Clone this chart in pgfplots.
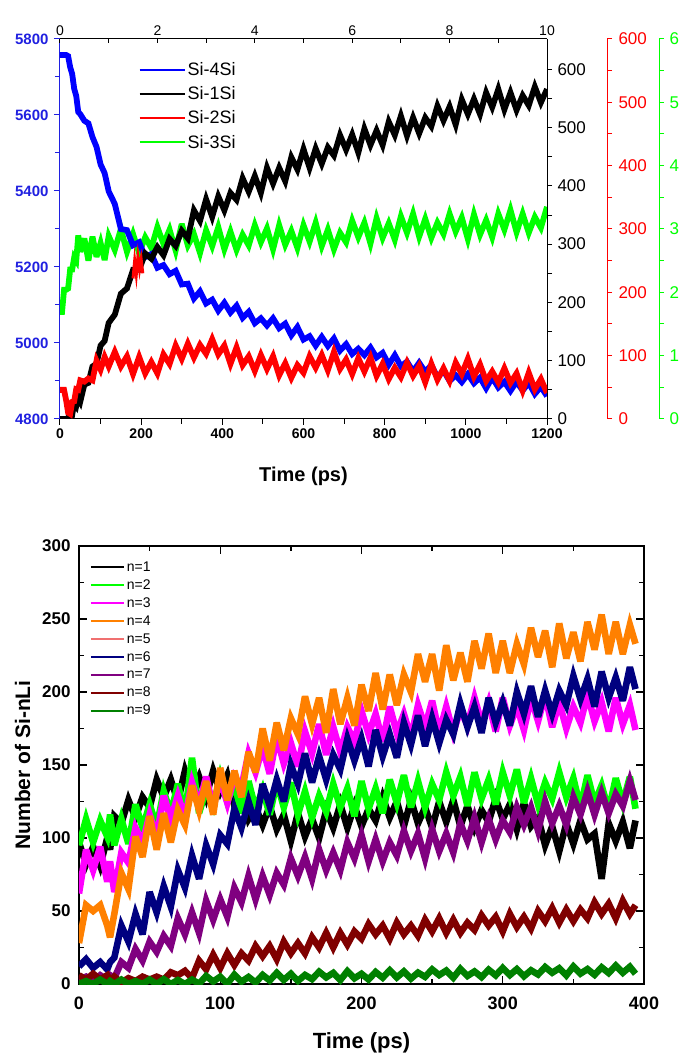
\documentclass[border=0pt]{standalone}
\usepackage{pgfplots}
\pgfplotsset{compat=1.18}
\usepackage{pgfplotstable}
\usepackage{fontspec}
\setmainfont{Liberation Sans}
\definecolor{cblue}{HTML}{0000FF}
\definecolor{axblue}{HTML}{2020E0}
\definecolor{cgreen}{HTML}{00FF00}
\definecolor{cred}{HTML}{FF0000}
\definecolor{cmag}{HTML}{FF00FF}
\definecolor{corange}{HTML}{FF8000}
\definecolor{cnavy}{HTML}{000080}
\definecolor{cpurple}{HTML}{800080}
\definecolor{cdred}{HTML}{800000}
\definecolor{cdgreen}{HTML}{008000}
\definecolor{cn5}{HTML}{F07070}

\pgfplotstableread{
t b k r g
0 5758 0 46 1.69
5 5758 0 46 1.69
10 5758 0 46 2.04
15 5758 0 30 2.04
20 5755 2 10 2.06
25 5726 8 8 2.36
30 5708 7 27 2.36
35 5669 27 28 2.55
40 5650 22 47 2.50
45 5608 37 46 2.90
50 5602 30 61 2.64
60 5585 59 59 2.85
70 5578 62 64 2.50
80 5542 90 61 2.88
90 5516 95 92 2.56
100 5470 126 78 2.78
110 5447 134 98 2.51
120 5399 165 83 2.89
135 5366 179 106 2.67
150 5300 215 83 3.00
165 5297 224 99 2.64
180 5257 256 71 2.92
195 5265 256 98 2.62
210 5226 284 72 2.87
225 5234 275 90 2.70
240 5198 295 72 3.03
255 5205 281 102 2.76
270 5181 309 87 2.99
285 5190 297 116 2.66
300 5154 323 95 3.08
315 5156 310 119 2.74
330 5117 358 97 2.92
345 5136 340 117 2.62
360 5104 377 103 2.98
375 5114 347 126 2.73
390 5085 382 102 3.03
405 5106 358 116 2.68
420 5080 388 87 2.96
435 5098 376 113 2.67
450 5066 413 85 2.91
465 5082 390 99 2.74
480 5052 417 76 3.06
495 5065 388 101 2.79
510 5046 431 79 3.01
525 5065 404 99 2.68
540 5039 431 69 3.06
555 5051 408 88 2.75
570 5020 449 65 2.97
585 5042 428 85 2.70
600 5009 463 73 3.06
615 5018 431 99 2.80
630 4993 464 81 3.10
645 5016 438 101 2.73
660 4992 466 77 2.99
675 5012 452 106 2.68
690 4980 487 79 2.94
705 4997 462 94 2.79
720 4971 488 71 3.13
735 4985 457 96 2.87
750 4968 498 75 3.10
765 4988 470 97 2.77
780 4962 495 68 3.17
795 4974 470 87 2.86
810 4943 510 63 3.09
825 4968 487 81 2.83
840 4939 520 66 3.20
855 4951 486 89 2.94
870 4925 517 68 3.24
885 4948 490 84 2.88
900 4924 517 58 3.16
915 4942 502 87 2.86
930 4910 537 62 3.10
945 4927 512 80 2.92
960 4900 536 60 3.24
975 4915 505 89 2.96
990 4897 548 71 3.18
1005 4918 523 95 2.84
1020 4894 549 67 3.23
1035 4909 523 86 2.91
1050 4881 560 60 3.14
1065 4909 535 75 2.87
1080 4883 566 58 3.24
1095 4898 531 80 2.99
1110 4874 560 57 3.30
1125 4898 530 72 2.95
1140 4875 555 45 3.24
1155 4895 538 73 2.94
1170 4866 570 47 3.19
1185 4885 543 63 3.02
1200 4860 566 41 3.35
}\toptable

\pgfplotstableread{
t n1 n2 n3 n4 n6 n7 n8 n9
0 97 95 62 28 12 3 6 0
5 82 113 92 54 17 5 3 2
10 94 97 78 50 11 2 7 0
15 81 112 94 54 15 6 3 3
20 100 101 70 40 10 3 6 0
22 92 116 84 32 15 6 2 2
25 115 95 63 48 18 4 5 0
30 110 113 90 76 40 15 1 3
35 126 96 83 65 29 11 4 0
40 114 123 107 101 48 24 2 2
45 128 107 97 87 34 16 5 0
50 121 123 116 115 63 29 3 3
55 140 108 101 92 49 22 5 0
60 128 132 129 117 67 33 3 3.3
65 140 117 113 97 53 26 8 0
70 125 137 129 119 78 45 6 2.7
75 146 116 114 109 66 34 9 0
80 131 155 138 136 88 49 4 3
85 142 117 123 119 72 35 16 0.2
90 128 133 142 139 95 57 10 5.5
95 146 122 121 116 82 44 20 1.7
100 132 142 140 148 102 58 11 5
105 143 125 124 126 96 46 21 0.2
110 122 137 142 146 120 66 13 6.4
115 132 117 135 128 107 56 21 1.6
120 113 139 158 159 125 74 16 4.8
125 121 120 145 145 109 58 26 1
130 109 133 162 175 137 74 19 6.2
135 122 116 144 153 122 61 26 2.4
140 106 138 169 179 140 76 17 7.6
145 116 121 151 160 125 68 29 2.8
150 98 138 165 182 150 86 21 7
155 117 116 149 171 137 74 28 2.1
160 101 132 173 197 158 87 21 6.2
165 113 114 158 178 138 72 32 3.3
170 100 129 178 196 156 92 25 8.4
175 119 118 157 172 140 78 35 4.5
180 107 137 176 202 157 90 25 7.6
185 123 121 159 178 147 78 35 2.7
190 107 134 176 196 168 97 27 8.8
195 122 115 166 177 153 86 36 3.9
200 108 139 187 205 168 102 31 7
205 120 120 171 187 149 84 41 3.1
210 112 134 185 213 174 99 34 8.2
215 128 117 166 188 156 84 40 4.3
220 114 140 190 212 171 97 31 9.4
225 125 124 172 191 155 88 42 4.5
230 108 143 185 212 179 105 34 8.6
235 126 121 169 200 164 91 40 3.7
240 110 139 191 226 184 103 33 7.8
245 121 121 176 207 163 86 44 4.9
250 107 137 194 226 182 106 36 10
255 125 126 172 201 165 91 45 6.1
260 111 145 190 232 181 103 35 9.2
265 126 129 172 208 171 90 44 4.3
270 108 142 188 227 192 110 35 10.4
275 122 122 177 207 176 98 42 5.5
280 107 145 196 235 190 114 37 8.6
285 119 127 179 216 172 97 47 4.7
290 111 140 193 240 196 113 40 9.8
295 127 123 173 213 179 99 46 5.9
300 113 145 196 235 193 112 36 11
305 123 129 177 213 177 104 48 6.1
310 106 147 190 233 200 121 39 10.2
315 124 124 174 219 185 109 46 5.3
320 108 141 196 244 204 121 38 9.4
325 114 123 180 224 183 105 50 6.5
330 95 138 198 242 201 125 43 11.6
335 108 127 176 217 185 110 52 7.7
340 91 145 193 247 201 122 42 10.8
345 110 128 175 223 191 109 51 5.9
350 96 141 190 241 211 128 43 12
355 112 121 179 221 195 116 51 7.1
360 99 143 198 248 209 132 45 10.2
365 103 124 180 229 190 116 56 6.3
370 72 136 193 253 214 131 48 11.4
375 110 119 173 226 196 117 55 7.5
380 98 141 196 248 210 130 45 12.6
385 111 124 178 226 194 122 57 7.7
390 93 142 191 246 217 139 48 11.8
394 112 120 174 233 202 126 54 7
}\bottable

\pgfplotsset{
  base/.style={scale only axis,
    /pgf/number format/assume math mode=true,
    /pgf/number format/1000 sep={}},
  topframe/.style={base, width=487pt, height=380pt,
    at={(60pt,634pt)}, anchor=south west, xmin=0, xmax=1200},
  noisytop/.style={line width=5.8pt, line join=miter, miter limit=4},
  noisybot/.style={line width=6.6pt, line join=miter, miter limit=4},
}

\begin{document}
\begin{tikzpicture}
\path[use as bounding box] (0pt,0pt) rectangle (681pt,1053pt);

% ---------- top chart: green axis (offset) ----------
\begin{axis}[topframe, ymin=0, ymax=6,
  axis x line=none, axis y line*=right,
  ytick pos=right, yticklabel pos=right,
  ytick={0,1,...,6}, minor y tick num=1,
  tick align=outside, major tick length=5pt, minor tick length=5pt,
  y axis line style={cgreen, line width=1pt, -, xshift=112pt},
  ytick style={cgreen, line width=1pt, xshift=112pt},
  yticklabel style={cgreen, xshift=114pt, font=\fontsize{17pt}{17pt}\selectfont},
]
\addplot[cgreen, noisytop] table[x=t, y=g] {\toptable};
\end{axis}

% ---------- top chart: blue axis + bottom time axis ----------
\begin{axis}[topframe, ymin=4800, ymax=5800,
  axis x line*=bottom, axis y line*=left,
  xtick pos=left, ytick pos=left,
  xtick={0,200,...,1200}, minor x tick num=1,
  ytick={4800,5000,...,5800}, minor y tick num=1,
  tick align=outside, major tick length=6pt, minor tick length=5pt,
  x axis line style={black, line width=1pt, -},
  y axis line style={axblue, line width=1pt, -},
  xtick style={black, line width=1pt},
  ytick style={axblue, line width=1pt},
  xticklabel style={font=\bfseries\fontsize{14pt}{14pt}\selectfont},
  yticklabel style={axblue, xshift=-2pt, font=\bfseries\fontsize{15pt}{15pt}\selectfont},
  xlabel={Time (ps)},
  xlabel style={font=\bfseries\fontsize{20pt}{20pt}\selectfont, yshift=-22pt},
]
\addplot[cblue, noisytop] table[x=t, y=b] {\toptable};
\end{axis}

% ---------- top chart: black right axis ----------
\begin{axis}[topframe, ymin=0, ymax=652,
  axis x line=none, axis y line*=right,
  ytick pos=right, yticklabel pos=right,
  ytick={0,100,...,600}, minor y tick num=1,
  tick align=outside, major tick length=5pt, minor tick length=5pt,
  y axis line style={black, line width=1pt, -},
  ytick style={black, line width=1pt},
  yticklabel style={xshift=2pt, font=\fontsize{17pt}{17pt}\selectfont},
]
\addplot[black, noisytop] table[x=t, y=k] {\toptable};
\end{axis}

% ---------- top chart: red axis (offset) ----------
\begin{axis}[topframe, ymin=0, ymax=600,
  axis x line=none, axis y line*=right,
  ytick pos=right, yticklabel pos=right,
  ytick={0,100,...,600}, minor y tick num=1,
  tick align=outside, major tick length=5pt, minor tick length=5pt,
  y axis line style={cred, line width=1pt, -, xshift=60pt},
  ytick style={cred, line width=1pt, xshift=60pt},
  yticklabel style={cred, xshift=63pt, font=\fontsize{17pt}{17pt}\selectfont},
]
\addplot[cred, noisytop] table[x=t, y=r] {\toptable};
\addplot[cred, line width=3pt, forget plot] coordinates {(180,222)(184,250)(188,228)(192,256)(196,236)(200,252)(204,230)};
\end{axis}

% ---------- top chart: top axis (0-10) + legend ----------
\begin{axis}[base, width=487pt, height=380pt, at={(60pt,634pt)}, anchor=south west,
  xmin=0, xmax=10, ymin=0, ymax=1,
  axis x line*=top, axis y line=none,
  xtick pos=right, xticklabel pos=right,
  xtick={0,2,...,10}, minor x tick num=1,
  tick align=inside, major tick length=4pt, minor tick length=4pt,
  x axis line style={black, line width=1pt, -},
  xtick style={black, line width=1pt},
  xticklabel style={font=\fontsize{14pt}{14pt}\selectfont},
  legend style={draw=none, fill=none, at={(0.161,0.943)}, anchor=north west,
    font=\fontsize{18pt}{18pt}\selectfont, row sep=5.5pt, inner sep=0pt},
  legend cell align=left,
  legend image code/.code={\draw[#1, line width=2pt] (0pt,0pt) -- (45pt,0pt);},
]
\addlegendimage{color=cblue}\addlegendentry{Si-4Si}
\addlegendimage{color=black}\addlegendentry{Si-1Si}
\addlegendimage{color=cred}\addlegendentry{Si-2Si}
\addlegendimage{color=cgreen}\addlegendentry{Si-3Si}
\end{axis}

% ---------- bottom chart ----------
\begin{axis}[base, width=565pt, height=438pt, at={(79pt,69pt)}, anchor=south west,
  xmin=0, xmax=400, ymin=0, ymax=300,
  xtick={0,100,...,400}, minor x tick num=1,
  ytick={0,50,...,300}, minor y tick num=1,
  tick align=inside, major tick length=8pt, minor tick length=5pt,
  axis line style={line width=1.6pt},
  every tick/.append style={black, line width=1.4pt},
  xticklabel style={font=\bfseries\fontsize{18pt}{18pt}\selectfont, yshift=-9pt},
  yticklabel style={font=\bfseries\fontsize{17pt}{17pt}\selectfont, xshift=-5pt},
  xlabel={Time (ps)}, ylabel={Number of Si-nLi},
  xlabel style={font=\bfseries\fontsize{22pt}{22pt}\selectfont, yshift=-16pt},
  ylabel style={font=\bfseries\fontsize{21pt}{21pt}\selectfont, yshift=5pt},
  legend style={draw=none, fill=none, at={(0.019,0.969)}, anchor=north west,
    font=\fontsize{14pt}{14pt}\selectfont, row sep=2.7pt, inner sep=0pt},
  legend cell align=left,
  legend image code/.code={\draw[#1, line width=2pt, line join=round] (0pt,0pt) -- (33pt,0pt);},
]
\addplot[black, noisybot] table[x=t, y=n1] {\bottable}; \addlegendentry{n=1}
\addplot[cgreen, noisybot] table[x=t, y=n2] {\bottable}; \addlegendentry{n=2}
\addplot[cmag, noisybot] table[x=t, y=n3] {\bottable}; \addlegendentry{n=3}
\addplot[corange, noisybot] table[x=t, y=n4] {\bottable}; \addlegendentry{n=4}
\addlegendimage{color=cn5}\addlegendentry{n=5}
\addplot[cnavy, noisybot] table[x=t, y=n6] {\bottable}; \addlegendentry{n=6}
\addplot[cpurple, noisybot] table[x=t, y=n7] {\bottable}; \addlegendentry{n=7}
\addplot[cdred, noisybot] table[x=t, y=n8] {\bottable}; \addlegendentry{n=8}
\addplot[cdgreen, noisybot] table[x=t, y=n9] {\bottable}; \addlegendentry{n=9}
\end{axis}
\end{tikzpicture}
\end{document}
